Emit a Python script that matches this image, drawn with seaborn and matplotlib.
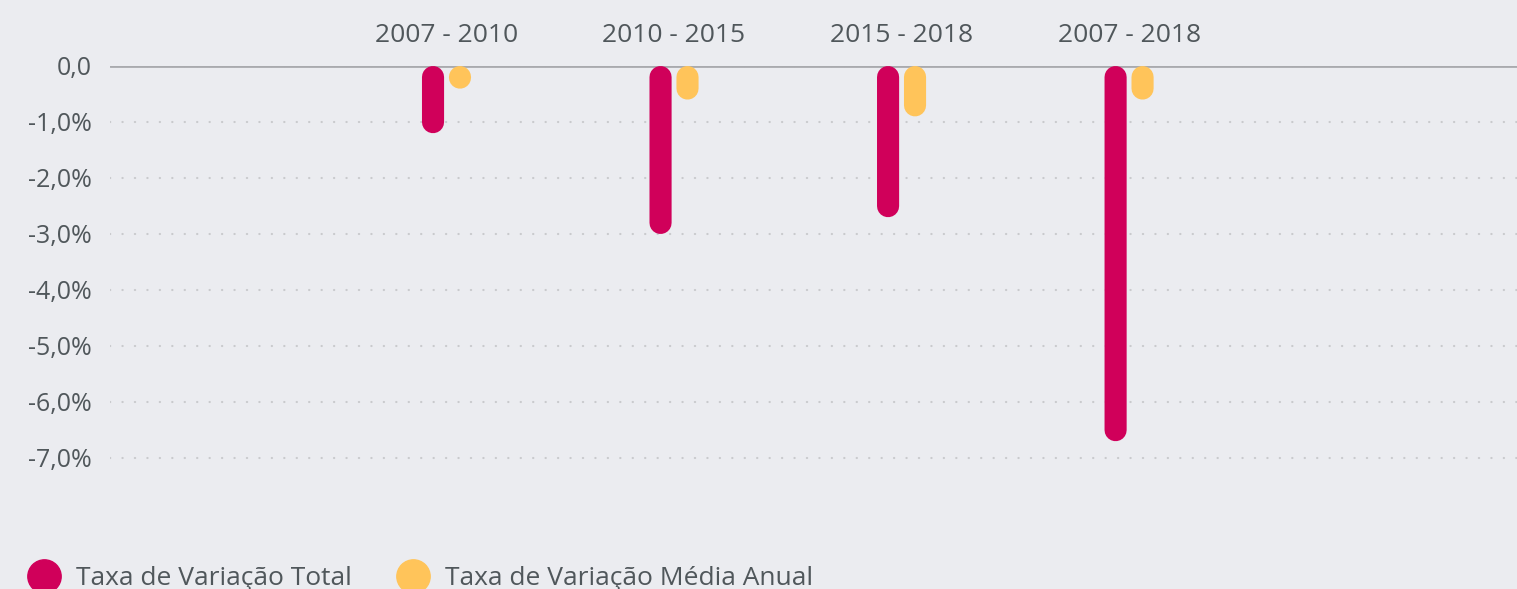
import pandas as pd
import numpy as np
import seaborn as sns
import matplotlib.pyplot as plt
from matplotlib.lines import Line2D

# Data ########################################################################

periodos = ["2007 - 2010", "2010 - 2015", "2015 - 2018", "2007 - 2018"]
taxa_total = [-1.2, -3.0, -2.7, -6.7]
taxa_media_anual = [-0.4, -0.6, -0.9, -0.6]
series = ["Taxa de Variação Total", "Taxa de Variação Média Anual"]
y_ticks = [0, -1, -2, -3, -4, -5, -6, -7]
y_tick_labels = ["0,0", "-1,0%", "-2,0%", "-3,0%", "-4,0%", "-5,0%", "-6,0%", "-7,0%"]

df = pd.DataFrame({
    "periodo": periodos * 2,
    "serie": [series[0]] * 4 + [series[1]] * 4,
    "valor": taxa_total + taxa_media_anual,
})

# Style #######################################################################

bg = "#ebecf0"
pink = "#d0005a"
yellow = "#ffc45a"
txt = "#50575b"

sns.set_theme(style="dark", rc={"axes.facecolor": bg, "figure.facecolor": bg})
plt.rcParams["font.family"] = ["Open Sans", "DejaVu Sans"]

fig = plt.figure(figsize=(15.17, 5.89), dpi=100)
ax = fig.add_axes([110 / 1517, 1 - 514 / 589, 1 - 110 / 1517, (514 - 66) / 589])

sns.barplot(
    data=df, x="periodo", y="valor", hue="serie",
    palette=[pink, yellow], saturation=1, width=0.237, gap=0.18,
    legend=False, ax=ax,
)

ax.set_xlim(-1.479, 4.705)
ax.set_ylim(-8, 0)

# rounded bars: swap each seaborn bar for a thick line with round caps ########

p0 = ax.transData.transform((0, 0))
p1 = ax.transData.transform((1, 1))
px_x = abs(p1[0] - p0[0])
px_y = abs(p1[1] - p0[1])

for p in list(ax.patches):
    x, w = p.get_x(), p.get_width()
    y0, h = p.get_y(), p.get_height()
    top, bottom = max(y0, y0 + h), min(y0, y0 + h)
    fc = p.get_facecolor()
    p.remove()
    r = (w / 2) * px_x / px_y
    ax.plot([x + w / 2, x + w / 2], [top - r, min(bottom + r, top - r - 0.01)],
            color=fc, lw=w * px_x * 72 / fig.dpi, solid_capstyle="round",
            snap=False, zorder=3, clip_on=False)

# axes ########################################################################

ax.axhline(0, color="#a9aaae", lw=2, zorder=2)
ax.set_yticks(y_ticks)
ax.set_yticklabels(y_tick_labels)
ax.yaxis.grid(True, color="#c9cacd", lw=1.6, linestyle=(0, (0.1, 5.5)),
              dash_capstyle="round")
ax.xaxis.grid(False)
ax.xaxis.tick_top()
ax.tick_params(axis="x", length=0, pad=13, labelsize=19, colors=txt)
ax.tick_params(axis="y", length=0, pad=13, labelsize=18, colors=txt)
ax.set_xlabel("")
ax.set_ylabel("")
for s in ax.spines.values():
    s.set_visible(False)

handles = [Line2D([], [], marker="o", ls="", ms=24, color=c) for c in [pink, yellow]]
fig.legend(handles, series, loc="center left", bbox_to_anchor=(0.0, 0.017),
           ncol=2, frameon=False, fontsize=19, handlelength=1.2,
           handletextpad=0.61, columnspacing=1.74, borderpad=0, borderaxespad=1.06,
           labelcolor=txt)

plt.savefig("out.png", dpi=100, facecolor=bg)
